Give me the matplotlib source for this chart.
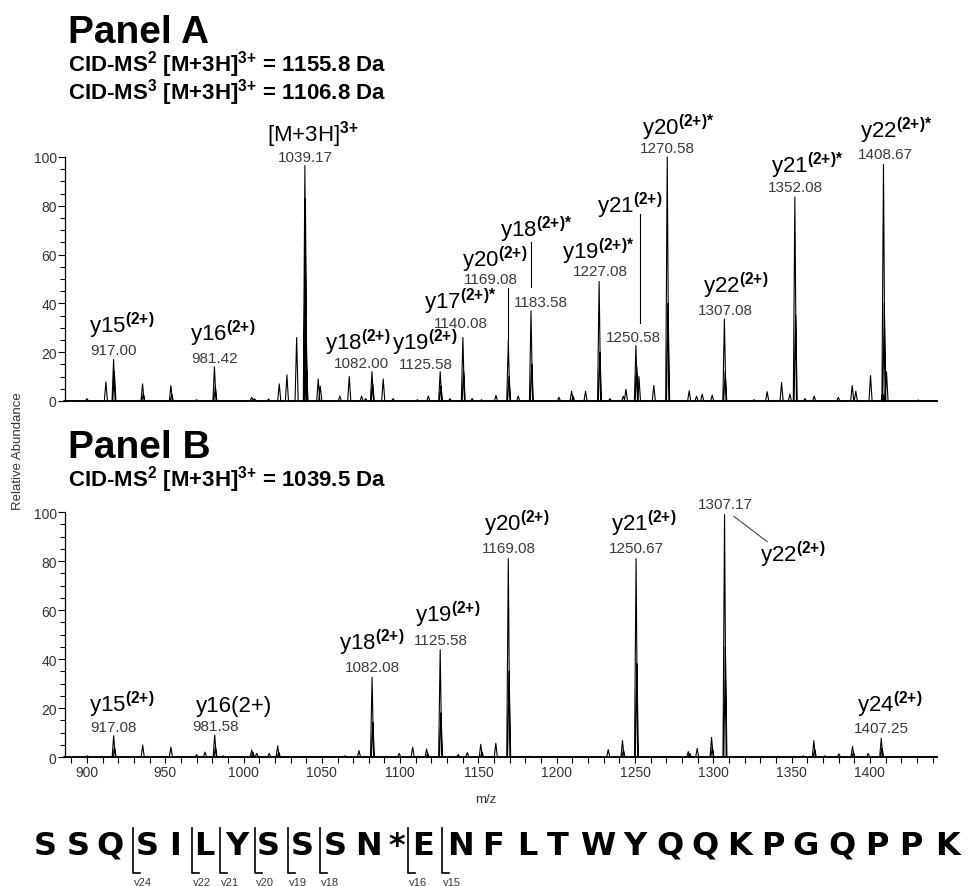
import numpy as np
import matplotlib
matplotlib.use("Agg")
import matplotlib.pyplot as plt
from matplotlib.ticker import MultipleLocator

plt.rcParams['font.family'] = ['Liberation Sans', 'DejaVu Sans']
plt.rcParams['mathtext.fontset'] = 'custom'
plt.rcParams['mathtext.rm'] = 'Liberation Sans'
plt.rcParams['mathtext.it'] = 'Liberation Sans:italic'
plt.rcParams['mathtext.bf'] = 'Liberation Sans:bold'

# ---- spectrum data (m/z, relative abundance) ----
peaks_a_mz = [900.0, 912.1, 917.0, 917.5, 935.5, 936.0, 953.6, 954.2, 970.0, 981.42, 982.0,
              1005.2, 1007.0, 1016.0, 1022.8, 1027.7, 1033.9, 1039.17, 1039.5, 1039.83, 1040.2,
              1047.7, 1049.0, 1061.5, 1067.5, 1075.4, 1078.0, 1082.0, 1082.5, 1089.2, 1095.5,
              1111.0, 1118.0, 1125.58, 1126.1, 1131.8, 1140.08, 1140.6, 1146.0, 1152.0, 1161.2,
              1169.08, 1169.6, 1175.4, 1183.58, 1184.1, 1201.4, 1209.5, 1210.5, 1218.4, 1227.08,
              1227.6, 1234.0, 1242.5, 1244.2, 1250.58, 1251.1, 1252.5, 1262.0, 1270.58, 1271.1,
              1284.6, 1289.3, 1292.9, 1299.3, 1307.08, 1307.6, 1326.0, 1334.4, 1343.6, 1348.9,
              1352.08, 1352.6, 1358.5, 1364.4, 1379.8, 1388.7, 1391.0, 1400.4, 1408.1, 1408.67,
              1409.2, 1410.6, 1430.9]
peaks_a_int = [1.0, 7.8, 17.0, 12.0, 7.0, 3.0, 6.3, 2.5, 0.5, 14.0, 6.0,
               1.5, 1.0, 0.8, 7.0, 10.7, 26.0, 96.5, 83.0, 33.0, 13.0,
               9.0, 6.0, 2.0, 10.0, 2.0, 1.0, 12.0, 7.0, 9.0, 1.0,
               0.5, 2.0, 12.0, 6.0, 1.0, 26.0, 12.0, 1.0, 0.5, 2.3,
               24.7, 10.0, 2.0, 37.0, 15.0, 1.5, 4.0, 2.0, 4.0, 49.0,
               20.0, 1.0, 2.0, 4.8, 22.7, 14.0, 10.0, 6.4, 100.0, 40.0,
               4.2, 2.0, 2.8, 2.4, 33.6, 12.0, 0.5, 3.8, 7.6, 2.8,
               83.6, 35.0, 1.0, 2.0, 1.5, 6.3, 4.0, 10.4, 3.0, 97.0,
               40.0, 12.0, 0.4]

peaks_b_mz = [900.2, 917.08, 917.6, 935.6, 953.6, 970.0, 975.4, 981.58, 982.1, 987.0,
              1005.2, 1006.0, 1008.4, 1016.4, 1021.8, 1022.5, 1064.8, 1073.7, 1082.08, 1082.6,
              1099.4, 1108.0, 1116.9, 1117.6, 1125.58, 1126.1, 1137.1, 1142.9, 1151.5, 1152.3,
              1161.1, 1169.08, 1169.6, 1182.9, 1232.9, 1242.0, 1242.6, 1250.67, 1251.2, 1284.0,
              1285.0, 1289.7, 1298.9, 1299.4, 1307.17, 1307.7, 1357.4, 1364.2, 1364.8, 1371.2,
              1380.2, 1388.9, 1389.5, 1398.9, 1407.25, 1407.8]
peaks_b_int = [0.5, 8.7, 4.0, 4.9, 4.0, 1.0, 2.0, 9.0, 4.0, 0.5,
               2.9, 2.0, 1.5, 1.5, 4.6, 2.0, 0.5, 2.6, 32.5, 14.0,
               1.5, 4.0, 3.3, 1.5, 43.8, 18.0, 1.0, 1.8, 5.2, 2.0,
               5.6, 81.0, 35.0, 0.3, 3.0, 6.7, 3.0, 81.0, 38.0, 2.2,
               1.5, 3.5, 8.0, 4.0, 99.0, 45.0, 0.5, 6.7, 3.0, 0.5,
               1.3, 4.4, 2.0, 1.5, 7.6, 3.5]

# ---- annotations ----
sup = r'$^{\mathbf{(2{+})}}$'
supst = r'$^{\mathbf{(2{+}){*}}}$'
names_a = [r'[M+3H]$^{\mathbf{3{+}}}$', 'y15' + sup, 'y16' + sup, 'y18' + sup, 'y19' + sup,
           'y17' + supst, 'y20' + sup, 'y18' + supst, 'y19' + supst, 'y21' + sup,
           'y20' + supst, 'y22' + sup, 'y21' + supst, 'y22' + supst]
names_a_pos = [(1044.3, 106.7), (922.3, 28.3), (986.8, 25.1), (1072.7, 21.3), (1115.6, 21.3),
               (1138.3, 38.0), (1160.5, 55.3), (1186.6, 67.7), (1226.3, 58.5), (1246.5, 77.3),
               (1277.2, 109.4), (1314.4, 44.5), (1359.8, 93.7), (1416.6, 108.0)]
nums_a = ['1039.17', '917.00', '981.42', '1082.00', '1125.58', '1140.08', '1169.08',
          '1183.58', '1227.08', '1250.58', '1270.58', '1307.08', '1352.08', '1408.67']
nums_a_pos = [(1039.5, 98.5), (917.0, 19.3), (981.4, 16.0), (1075.0, 14.1), (1116.3, 13.6),
              (1139.0, 30.2), (1157.8, 48.2), (1189.9, 39.0), (1227.6, 51.6), (1248.7, 24.7),
              (1270.7, 101.9), (1307.4, 35.7), (1352.4, 85.9), (1409.6, 99.5)]
leaders_a = [(1183.58, 65.2, 46.7), (1253.5, 76.5, 32.0), (1169.08, 46.2, 24.7)]

names_b = ['y15' + sup, 'y16(2+)', 'y18' + sup, 'y19' + sup, 'y20' + sup, 'y21' + sup,
           'y22' + sup, 'y24' + sup]
names_b_pos = [(922.5, 18.9), (993.7, 18.9), (1082.0, 44.1), (1130.2, 55.6), (1174.4, 92.4),
               (1255.6, 92.4), (1351.0, 80.1), (1412.4, 18.9)]
nums_b = ['917.08', '981.58', '1082.08', '1125.58', '1169.08', '1250.67', '1307.17', '1407.25']
nums_b_pos = [(917.0, 10.7), (982.0, 11.1), (1082.5, 35.2), (1126.0, 46.1), (1169.7, 83.5),
              (1251.0, 83.5), (1307.4, 101.5), (1407.4, 10.1)]

sequence = ['S', 'S', 'Q', 'S', 'I', 'L', 'Y', 'S', 'S', 'S', 'N', '*', 'E', 'N', 'F', 'L',
            'T', 'W', 'Y', 'Q', 'Q', 'K', 'P', 'G', 'Q', 'P', 'P', 'K']
seq_x = [45, 78, 110, 147, 175, 204, 237, 268, 302, 335, 368, 397, 423, 460, 493, 527,
         558, 598, 635, 670, 705, 740, 773, 806, 842, 877, 911, 947]
frag_labels = ['y24', 'y22', 'y21', 'y20', 'y19', 'y18', 'y16', 'y15']
frag_x = [133, 192, 220, 255, 288, 320, 408, 442]

num_color = '#3a3a3a'
narrow = ['Liberation Sans Narrow', 'Liberation Sans', 'DejaVu Sans']


def profile(mz, inten, w=1.0):
    order = np.argsort(mz)
    xs, ys = [885.0], [0.0]
    for i in order:
        xs += [mz[i] - w, mz[i], mz[i] + w]
        ys += [0.0, inten[i], 0.0]
    xs.append(1443.0)
    ys.append(0.0)
    return xs, ys


fig = plt.figure(figsize=(9.71, 8.87), dpi=100)
ax_a = fig.add_axes([0.0669, 0.5468, 0.898, 0.2751])
ax_b = fig.add_axes([0.0669, 0.1454, 0.898, 0.2762])

for ax in (ax_a, ax_b):
    ax.set_xlim(885.95, 1442.8)
    ax.set_ylim(0, 100)
    ax.spines['top'].set_visible(False)
    ax.spines['right'].set_visible(False)
    ax.spines['left'].set_linewidth(0.9)
    ax.spines['bottom'].set_linewidth(1.3)
    ax.set_yticks([0, 20, 40, 60, 80, 100])
    ax.yaxis.set_minor_locator(MultipleLocator(5))
    ax.tick_params(axis='y', which='major', length=5, width=0.8, labelsize=10,
                   labelcolor='#333333', pad=1)
    ax.tick_params(axis='y', which='minor', length=3.5, width=0.8)

ax_a.tick_params(axis='x', which='both', bottom=False, labelbottom=False)
ax_b.set_xticks(np.arange(900, 1401, 50))
ax_b.xaxis.set_minor_locator(MultipleLocator(10))
ax_b.tick_params(axis='x', which='both', length=4, width=0.8, labelsize=10,
                 labelcolor='#333333', pad=2)
for lbl in ax_b.get_xticklabels():
    lbl.set_fontfamily(narrow)

xa, ya = profile(peaks_a_mz, peaks_a_int)
ax_a.plot(xa, ya, color='black', lw=0.8, clip_on=False)
xb, yb = profile(peaks_b_mz, peaks_b_int)
ax_b.plot(xb, yb, color='black', lw=0.8, clip_on=False)

for ax, names, npos, nums, mpos in ((ax_a, names_a, names_a_pos, nums_a, nums_a_pos),
                                     (ax_b, names_b, names_b_pos, nums_b, nums_b_pos)):
    for t, (x, y) in zip(names, npos):
        ax.text(x, y, t, fontsize=16, ha='center', va='baseline', color='black')
    for t, (x, y) in zip(nums, mpos):
        ax.text(x, y, t, fontsize=11, ha='center', va='baseline', color=num_color)

for x, y0, y1 in leaders_a:
    ax_a.plot([x, x], [y0, y1], color='black', lw=0.8, clip_on=False)
ax_b.plot([1313.2, 1334.4], [98.2, 87.9], color='#444444', lw=0.8, clip_on=False)

# overlay in pixel coordinates for titles and sequence
ov = fig.add_axes([0, 0, 1, 1], facecolor='none')
ov.set_xlim(0, 971)
ov.set_ylim(887, 0)
ov.axis('off')

ov.text(68, 43, 'Panel A', fontsize=28, fontweight='bold', va='baseline')
ov.text(68, 72, r'CID-MS$^{\mathbf{2}}$ [M+3H]$^{\mathbf{3{+}}}$ = 1155.8 Da', fontsize=16,
        fontweight='bold', va='baseline')
ov.text(68, 100, r'CID-MS$^{\mathbf{3}}$ [M+3H]$^{\mathbf{3{+}}}$ = 1106.8 Da', fontsize=16,
        fontweight='bold', va='baseline')
ov.text(68, 458, 'Panel B', fontsize=28, fontweight='bold', va='baseline')
ov.text(68, 487, r'CID-MS$^{\mathbf{2}}$ [M+3H]$^{\mathbf{3{+}}}$ = 1039.5 Da', fontsize=16,
        fontweight='bold', va='baseline')
ov.text(486, 803, 'm/z', fontsize=9.5, ha='center', va='baseline', color='#333333',
        family=narrow)
ov.text(18, 451, 'Relative Abundance', fontsize=9.5, rotation=90, ha='center', va='center',
        color='#333333')

for letter, x in zip(sequence, seq_x):
    ov.text(x, 855, letter, fontsize=23, fontweight='bold', ha='center', va='baseline',
            family='DejaVu Sans')
for lab, x in zip(frag_labels, frag_x):
    ov.plot([x, x, x + 7], [829, 874, 874], color='black', lw=1.2)
    ov.text(x + 10, 886, lab, fontsize=8, ha='center', va='baseline', color='#333333',
            family=narrow)

fig.savefig('out.png', dpi=100)
